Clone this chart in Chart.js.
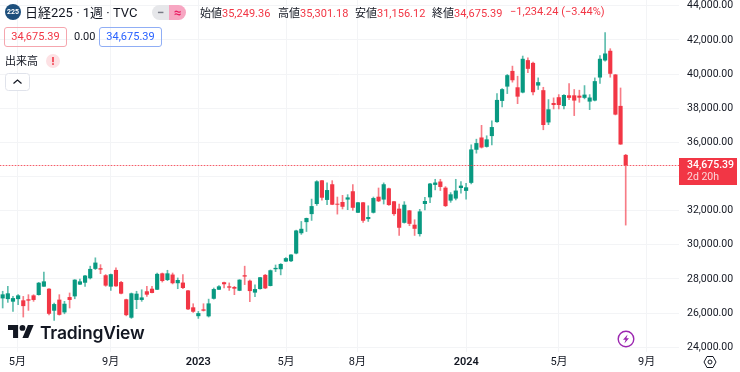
<!DOCTYPE html>
<html lang="ja">
<head>
<meta charset="utf-8">
<title>日経225 1週</title>
<script src="https://cdn.jsdelivr.net/npm/chart.js@4"></script>
<style>
  html, body { margin: 0; padding: 0; background: #fff; }
  body { width: 740px; height: 372px; overflow: hidden; position: relative; color: #131722;
         font-family: Roboto, "Noto Sans CJK JP", sans-serif; font-size: 11px; }
  #chart { position: absolute; left: 0; top: 0; }
  .abs { position: absolute; white-space: nowrap; line-height: 14px; }
  .red { color: #f23645; }
  .cjk { font-family: "Noto Sans CJK JP", sans-serif; }
  .box { position: absolute; top: 27px; height: 18px; width: 61px; border-radius: 3px; line-height: 18px; text-align: center; }
</style>
</head>
<body>
<canvas id="chart" width="740" height="372"></canvas>

<svg class="abs" style="left:5px;top:4px" width="16" height="16"><circle cx="8" cy="8" r="8" fill="#1d4f7c"/></svg>
<div class="abs" style="left:5px;top:5px;width:16px;text-align:center;color:#fff;font-size:7px;font-weight:700">225</div>
<div class="abs" style="left:25px;top:4px;font-size:13px;line-height:17px">日経225 · 1週 · TVC</div>

<div class="abs" style="left:152px;top:5px;width:17px;height:15px;background:#e6e7ea;border-radius:8px 0 0 8px;text-align:center;line-height:15px;font-size:13px;color:#787b86;font-weight:700">−</div>
<div class="abs" style="left:169px;top:5px;width:17px;height:15px;background:#f7a6c2;border-radius:0 8px 8px 0;text-align:center;line-height:15px;font-size:13px;color:#e91e63;font-weight:700">≈</div>

<div class="abs" style="left:200px;top:5px"><span class="cjk">始値</span><span class="red">35,249.36</span></div>
<div class="abs" style="left:278px;top:5px"><span class="cjk">高値</span><span class="red">35,301.18</span></div>
<div class="abs" style="left:355px;top:5px"><span class="cjk">安値</span><span class="red">31,156.12</span></div>
<div class="abs" style="left:432px;top:5px"><span class="cjk">終値</span><span class="red">34,675.39</span></div>
<div class="abs red" style="left:510px;top:5px">−1,234.24 (−3.44%)</div>

<div class="box red" style="left:4px;border:1px solid #f5a6ae">34,675.39</div>
<div class="abs" style="left:74px;top:30px">0.00</div>
<div class="box" style="left:99px;border:1px solid #90aef5;color:#2962ff">34,675.39</div>

<div class="abs cjk" style="left:5px;top:53px">出来高</div>
<svg class="abs" style="left:46px;top:54px" width="14" height="14"><circle cx="7" cy="7" r="7" fill="#fde1e4"/><rect x="6.2" y="3" width="1.6" height="5.2" fill="#f23645"/><rect x="6.2" y="9.2" width="1.6" height="1.7" fill="#f23645"/></svg>
<svg class="abs" style="left:5px;top:73px" width="25" height="18"><rect x="0.5" y="0.5" width="24" height="17" rx="3" fill="#fff" stroke="#e0e3eb"/><path d="M8.5 10.5 L12.5 7 L16.5 10.5" fill="none" stroke="#131722" stroke-width="1.2"/></svg>

<svg class="abs" style="left:8px;top:325px" width="26" height="13" viewBox="0 0 36 18"><path fill="#131722" d="M14 18H7V7H0V0h14v18zM28 18h-8L27.5 0h8L28 18z"/><circle cx="20" cy="4" r="4" fill="#131722"/></svg>
<div class="abs" style="left:40px;top:322px;font-family:Inter,sans-serif;font-weight:600;font-size:17.5px;line-height:21px;letter-spacing:-0.2px">TradingView</div>

<svg class="abs" style="left:617px;top:330px" width="18" height="18"><circle cx="9" cy="9" r="7.8" fill="#fff" stroke="#9c27b0" stroke-width="1.4"/><path d="M10.6 4.4 L6 9.8 H8.6 L7.4 13.6 L12 8.2 H9.4 Z" fill="#9c27b0"/></svg>
<svg class="abs" style="left:703px;top:355px" width="14" height="14" viewBox="0 0 14 14"><path d="M4 1.5 H10 L13 7 L10 12.5 H4 L1 7 Z" fill="none" stroke="#131722"/><circle cx="7" cy="7" r="2" fill="none" stroke="#131722"/></svg>

<script>
const opens = [
  26880,26840,26690,26840,26730,26790,27020,27080,27570,27410,
  26160,26770,26060,26920,27000,27690,27800,28060,28610,28610,
  28200,27570,28510,27800,26790,25750,26790,26790,27260,27410,
  27390,28310,27960,28240,27770,27770,27310,26320,25840,26200,
  25830,26860,27390,27790,27550,27510,27330,28200,27880,27220,
  27430,28220,27610,28590,28590,29040,29060,29510,30700,31350,
  31820,32410,33760,32650,33530,32390,32490,32670,33120,31900,
  32470,31530,31900,32800,32670,33290,32530,32100,31310,32000,
  31160,30650,32410,32800,33530,33690,33330,32610,32730,33350,
  33180,33650,35590,36270,35760,36390,37210,38450,39290,40170,
  39210,38940,40800,40640,39350,39040,37190,38290,38630,38150,
  38740,38740,38720,38630,38410,38470,39820,40820,41350,39960,
  38120,35249.36
];
const highs = [
  27280,27570,26980,27080,26980,27080,27080,27800,28410,27430,
  26590,27080,26690,27180,27960,28000,28220,28750,29240,28840,
  28260,28290,28650,27860,26820,27180,27280,27370,27570,27570,
  28350,28350,28510,28350,28060,28260,27330,26550,26100,26550,
  26820,27470,27610,27820,27770,27570,27960,28750,27940,27650,
  28100,28270,28530,28820,28900,29250,29430,30860,31370,31570,
  32680,33760,33780,33630,33760,32800,32900,32940,33530,32490,
  32490,32290,32800,33330,33630,33330,32550,32390,32530,32020,
  31470,32080,32780,33610,33840,33840,33410,33060,33840,33710,
  33610,35860,36190,37000,36390,37270,38860,39150,39980,40470,
  39880,41060,40960,40700,39780,39230,38510,38610,38800,38800,
  39450,39100,39060,39330,38800,39780,41090,42430,41490,39980,
  39190,35301.18
];
const lows = [
  26300,26630,26100,26490,25770,26160,26690,27050,27560,25900,
  25570,25880,25960,26300,26840,27670,27570,28000,28550,28310,
  27570,27330,27570,27120,25840,25690,26260,26690,26980,27180,
  27370,27820,27900,27710,27430,27430,26200,26040,25690,26120,
  25770,26820,27370,27470,27330,27080,27310,27670,26670,26960,
  27410,27430,27590,28430,28240,29020,29020,29470,30610,30780,
  31430,32310,32610,32350,32350,31800,32100,32060,32020,31880,
  31310,31370,31860,32530,32390,32310,31720,30550,31270,31120,
  30550,30510,32040,32470,33220,33180,32240,32490,32630,33020,
  32670,33570,35370,35670,35720,35860,37170,38080,38860,39530,
  38270,38900,40080,38780,39100,36740,37040,37960,37960,37960,
  38510,37570,38350,38550,37920,38430,39450,40760,39820,37610,
  35880,31156.12
];
const closes = [
  27080,27140,26860,27020,26430,26750,26790,27760,27840,25980,
  26510,25920,26530,26790,27940,27840,28180,28570,28940,28570,
  27630,28260,27590,27160,25900,27140,27120,26900,27100,27200,
  28280,27900,28310,27770,27920,27490,26240,26100,25980,26160,
  26550,27390,27550,27710,27510,27450,27940,28160,27310,27390,
  28080,27470,28490,28630,28860,29200,29410,30820,30920,31550,
  32250,33700,32780,33190,32370,32370,32250,32760,32190,32470,
  31430,31610,32720,32570,33530,32350,31820,31020,32330,31250,
  30960,31940,32550,33570,33630,33410,32290,32940,33160,33450,
  33350,35570,35940,35720,36160,36880,38470,39100,39920,39660,
  38700,40880,40330,38960,39510,37040,37920,38210,38210,38760,
  38630,38470,38640,38780,38610,39570,40880,41190,40040,37650,
  35900,34675.39
];
// x axis runs in week numbers, months sit a little off the whole week
const monthTicks = [2.84, 20.98, 37.99, 55.03, 68.87, 90.04, 108.04, 125.08];
const monthLabels = ['5月', '9月', '2023', '5月', '8月', '2024', '5月', '9月'];
const priceTicks = [24000, 26000, 28000, 30000, 32000, 34000, 36000, 38000, 40000, 42000, 44000];

const UP = '#089981', DOWN = '#f23645', GRID = '#f3f4f6';
const colors = closes.map((c, i) => c >= opens[i] ? UP : DOWN);
const wickColors = colors.map(c => c + 'a6');
const lastClose = closes[closes.length - 1];
const fmt = v => v.toLocaleString('en-US', { minimumFractionDigits: 2, maximumFractionDigits: 2 });

// dotted line and red tag for the last price
const lastPrice = {
  id: 'lastPrice',
  afterDraw(chart) {
    const { ctx, chartArea, scales } = chart;
    const y = Math.round(scales.y.getPixelForValue(lastClose));
    ctx.save();
    ctx.fillStyle = DOWN + '44';
    ctx.fillRect(chartArea.left, y, chartArea.width, 1);
    ctx.strokeStyle = DOWN + 'bb';
    ctx.lineWidth = 1;
    ctx.setLineDash([1, 2]);
    ctx.beginPath();
    ctx.moveTo(chartArea.left, y + 0.5);
    ctx.lineTo(chartArea.right, y + 0.5);
    ctx.stroke();
    ctx.fillStyle = DOWN;
    ctx.fillRect(chartArea.right, y - 7, 58, 27);
    ctx.textBaseline = 'middle';
    ctx.font = '500 10.5px Roboto';
    ctx.fillStyle = '#fff';
    ctx.fillText(fmt(lastClose), 687, y + 0.5);
    ctx.font = '10.5px Roboto';
    ctx.fillStyle = '#fcd5d8';
    ctx.fillText('2d 20h', 687, y + 12);
    ctx.restore();
  },
};

new Chart(document.getElementById('chart').getContext('2d'), {
  type: 'bar',
  data: {
    datasets: [
      {
        data: lows.map((l, i) => ({ x: i, y: [l, highs[i]] })),
        backgroundColor: wickColors,
        barThickness: 1,
        grouped: false,
        order: 2,
      },
      {
        data: opens.map((o, i) => ({ x: i, y: [o, closes[i]] })),
        backgroundColor: colors,
        barThickness: 3.5,
        grouped: false,
        order: 1,
      },
    ],
  },
  options: {
    responsive: false,
    animation: false,
    events: [],
    layout: { padding: 0 },
    plugins: { legend: { display: false }, tooltip: { enabled: false } },
    scales: {
      x: {
        type: 'linear',
        offset: false,
        min: -0.52,
        max: 131.35,
        grid: { color: GRID, offset: false, drawTicks: false },
        border: { display: false },
        afterBuildTicks: s => { s.ticks = monthTicks.map(value => ({ value })); },
        afterFit: s => { s.height = 20; s.paddingLeft = 0; s.paddingRight = 0; },
        ticks: {
          autoSkip: false,
          maxRotation: 0,
          padding: 4,
          color: '#131722',
          font: c => ({ family: 'Roboto, "Noto Sans CJK JP"', size: 11, weight: monthLabels[c.index] > '2' && monthLabels[c.index].length === 4 ? '600' : '400' }),
          callback: (v, i) => monthLabels[i],
        },
      },
      y: {
        position: 'right',
        min: 23722,
        max: 44343,
        grid: { color: GRID, drawTicks: false },
        border: { display: false },
        afterBuildTicks: s => { s.ticks = priceTicks.map(value => ({ value })); },
        afterFit: s => { s.width = 61; s.paddingTop = 0; s.paddingBottom = 0; },
        ticks: {
          padding: 8,
          color: '#131722',
          font: { family: 'Roboto', size: 10.5 },
          callback: v => fmt(v),
        },
      },
    },
  },
  plugins: [lastPrice],
});
</script>
</body>
</html>
